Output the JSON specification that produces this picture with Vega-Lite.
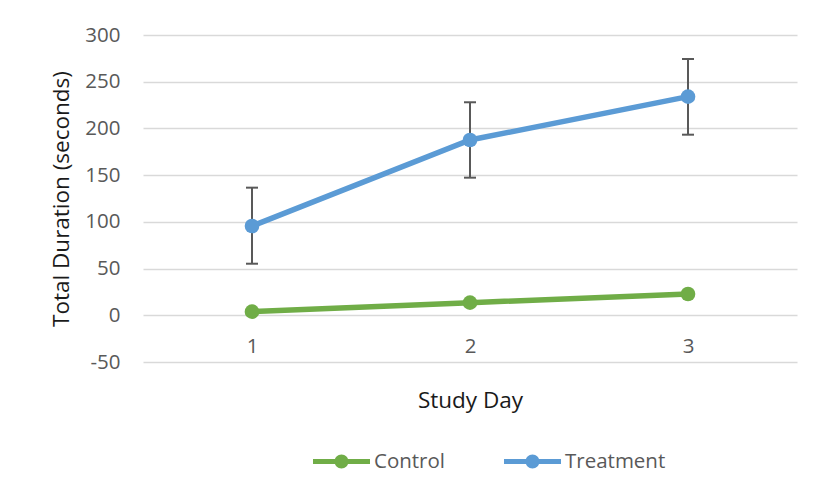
{
  "$schema": "https://vega.github.io/schema/vega-lite/v6.json",
  "autosize": {"type": "none"},
  "width": 654,
  "height": 327,
  "padding": {"left": 143, "top": 35, "right": 17, "bottom": 126},
  "background": "white",
  "config": {
    "view": {"stroke": null},
    "font": "Open Sans",
    "axisY": {
      "labelPadding": 23, "ticks": false, "tickSize": 0, "domain": false,
      "gridColor": "#D9D9D9", "gridWidth": 1.3,
      "labelFontSize": 20.5, "labelColor": "#595959",
      "labelExpr": "datum.value + ''",
      "titleFontSize": 22.5, "titleFontWeight": "normal", "titleColor": "#1a1a1a",
      "titleX": -75, "titleBaseline": "alphabetic"
    },
    "axisX": {
      "domain": false, "ticks": false, "tickSize": 0, "grid": false,
      "labelPadding": -25.5, "labelAngle": 0,
      "labelFontSize": 20.5, "labelColor": "#595959",
      "titleFontSize": 22.5, "titleFontWeight": "normal", "titleColor": "#1a1a1a",
      "titleY": 45, "titleBaseline": "alphabetic"
    }
  },
  "data": {
    "values": [
      {"day": "1", "group": "Control", "value": 3.9, "lo": null, "hi": null},
      {"day": "2", "group": "Control", "value": 13.5, "lo": null, "hi": null},
      {"day": "3", "group": "Control", "value": 22.8, "lo": null, "hi": null},
      {"day": "1", "group": "Treatment", "value": 95.6, "lo": 55.2, "hi": 136.6},
      {"day": "2", "group": "Treatment", "value": 187.6, "lo": 147.3, "hi": 228.0},
      {"day": "3", "group": "Treatment", "value": 234.0, "lo": 193.3, "hi": 274.3}
    ]
  },
  "encoding": {
    "x": {
      "field": "day", "type": "ordinal",
      "scale": {"type": "point", "padding": 0.5},
      "title": "Study Day"
    }
  },
  "layer": [
    {
      "transform": [{"filter": "datum.lo != null"}],
      "mark": {"type": "rule", "color": "#595959", "strokeWidth": 2},
      "encoding": {
        "y": {"field": "lo", "type": "quantitative", "title": "Total Duration (seconds)",
              "scale": {"domain": [-50, 300], "nice": false, "zero": false},
              "axis": {"values": [-50, 0, 50, 100, 150, 200, 250, 300]}},
        "y2": {"field": "hi"}
      }
    },
    {
      "transform": [{"filter": "datum.lo != null"}],
      "mark": {"type": "tick", "orient": "horizontal", "color": "#595959", "size": 12, "thickness": 2, "opacity": 1},
      "encoding": {
        "y": {"field": "lo", "type": "quantitative", "title": "Total Duration (seconds)",
              "scale": {"domain": [-50, 300], "nice": false, "zero": false},
              "axis": {"values": [-50, 0, 50, 100, 150, 200, 250, 300]}}
      }
    },
    {
      "transform": [{"filter": "datum.lo != null"}],
      "mark": {"type": "tick", "orient": "horizontal", "color": "#595959", "size": 12, "thickness": 2, "opacity": 1},
      "encoding": {
        "y": {"field": "hi", "type": "quantitative", "title": "Total Duration (seconds)",
              "scale": {"domain": [-50, 300], "nice": false, "zero": false},
              "axis": {"values": [-50, 0, 50, 100, 150, 200, 250, 300]}}
      }
    },
    {
      "mark": {"type": "line", "strokeWidth": 5.5, "strokeCap": "round"},
      "encoding": {
        "y": {"field": "value", "type": "quantitative", "title": "Total Duration (seconds)",
              "scale": {"domain": [-50, 300], "nice": false, "zero": false},
              "axis": {"values": [-50, 0, 50, 100, 150, 200, 250, 300]}},
        "color": {"field": "group", "type": "nominal",
                  "scale": {"domain": ["Control", "Treatment"], "range": ["#70AD47", "#5B9BD5"]}}
      }
    },
    {
      "mark": {"type": "point", "filled": true, "opacity": 1, "size": 215, "shape": "circle"},
      "encoding": {
        "y": {"field": "value", "type": "quantitative", "title": "Total Duration (seconds)",
              "scale": {"domain": [-50, 300], "nice": false, "zero": false},
              "axis": {"values": [-50, 0, 50, 100, 150, 200, 250, 300]}},
        "color": {"field": "group", "type": "nominal",
                  "scale": {"domain": ["Control", "Treatment"], "range": ["#70AD47", "#5B9BD5"]},
                  "legend": {
                    "orient": "none", "legendX": 170, "legendY": 398,
                    "direction": "horizontal", "title": null,
                    "symbolType": "M-1,-0.088 L1,-0.088 L1,0.088 L-1,0.088 Z M-0.245,0 A0.245,0.245 0 1,1 0.245,0 A0.245,0.245 0 1,1 -0.245,0 Z",
                    "symbolSize": 3249, "symbolStrokeWidth": 0, "symbolOpacity": 1,
                    "labelFontSize": 20.5, "labelColor": "#595959", "labelFont": "Open Sans",
                    "labelOffset": 4, "columnPadding": 58,
                    "encode": {"symbols": {"update": {"fill": {"scale": "color", "field": "value"}, "strokeWidth": {"value": 0}}}}
                  }}
      }
    }
  ]
}
